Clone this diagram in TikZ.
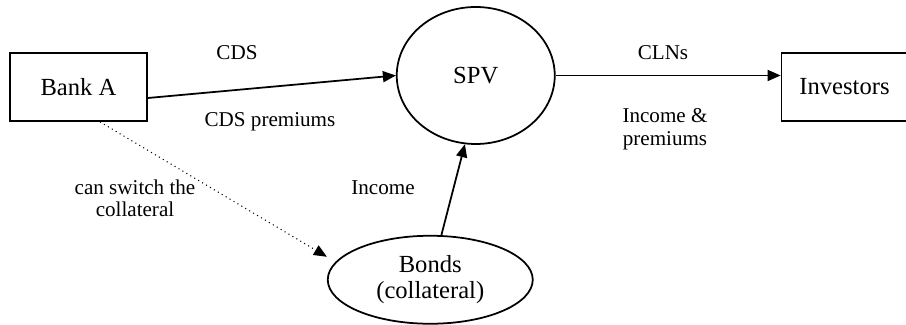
\documentclass[tikz,border=0pt]{standalone}
\usepackage{fontspec}
\setmainfont{Liberation Serif}
\usetikzlibrary{shapes.geometric, arrows.meta, positioning}

\begin{document}
\begin{tikzpicture}[
    box/.style={rectangle, draw=black, line width=1pt, minimum width=2.74cm, minimum height=1.36cm, text centered, font=\fontsize{14}{16}\selectfont},
    oval/.style={ellipse, draw=black, line width=1pt, inner sep=0pt, text centered, align=center, font=\fontsize{14}{15}\selectfont},
    lbl/.style={align=center, font=\fontsize{12}{12.8}\selectfont},
    arrow/.style={line width=1pt, -{Triangle[length=0.26cm, width=0.22cm]}}
]
\useasboundingbox (0,0) rectangle (18.12,6.5);

% Parties
\node[box] (bank) at (1.57,4.76) {Bank A};
\node[oval, minimum width=3.16cm, minimum height=2.74cm, right=4.96cm of bank, yshift=0.23cm] (spv) {SPV};
\node[box, minimum width=2.52cm, right=4.5cm of spv, yshift=-0.23cm] (inv) {Investors};
\node[oval, minimum width=4.1cm, minimum height=1.76cm, below=1.8cm of spv, xshift=-0.91cm] (bonds) {Bonds\\(collateral)};

% Arrows
\draw[arrow] ([yshift=-0.22cm]bank.east) -- (spv.west);
\draw[arrow] (spv.east) -- (spv.east -| inv.west);
\draw[arrow] (bonds.76) -- (spv.261);
\draw[arrow, line width=0.6pt, dotted] ([xshift=0.43cm]bank.south) -- ([yshift=0.46cm]bonds.west);

% Flow labels
\node[lbl] (cds) at (4.74,5.44) {CDS};
\node[lbl] (cdsprem) at (5.40,4.06) {CDS premiums};
\node[lbl] (clns) at (13.26,5.44) {CLNs};
\node[lbl] (incprem) at (13.30,3.92) {Income \&\\premiums};
\node[lbl] (switch) at (2.70,2.53) {can switch the\\collateral};
\node[lbl] (income) at (7.66,2.74) {Income};

\end{tikzpicture}
\end{document}
